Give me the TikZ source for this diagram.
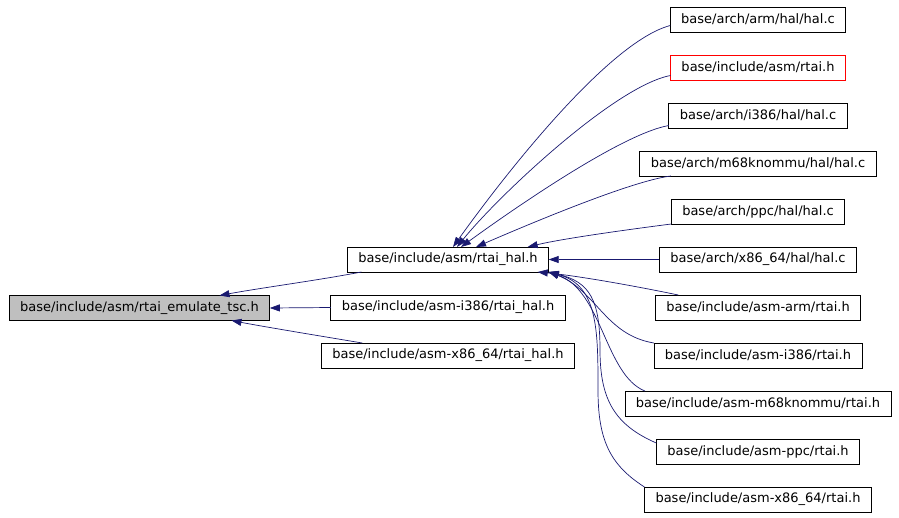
\documentclass[tikz,border=0pt]{standalone}
\usepackage{fontspec}
\setmainfont{DejaVu Sans}
\usepackage{xcolor}
\usetikzlibrary{positioning,arrows.meta}
\definecolor{InclNavy}{HTML}{191970}
\definecolor{RootGray}{HTML}{BFBFBF}
\definecolor{HeadRed}{HTML}{FF0000}
\tikzset{
  filebox/.style={draw=black,line width=0.8pt,minimum height=25pt,inner xsep=11pt,inner ysep=0pt,outer sep=0pt,font=\fontsize{13}{15}\selectfont},
  incl/.style={-{Triangle[length=10pt,width=7pt]},InclNavy,line width=0.7pt}
}

\begin{document}
\begin{tikzpicture}[x=1pt,y=-1pt,node distance=23pt]
        \useasboundingbox (0,0) rectangle (899,517);
        \node[filebox,fill=RootGray] (emu) at (139.5,308) {base/include/asm/rtai\_emulate\_tsc.h};
        \node[filebox] (hal) at (448,259.5) {base/include/asm/rtai\_hal.h};
        \node[filebox] (halx) at (448,307.5) {base/include/asm-i386/rtai\_hal.h};
        \node[filebox] (haly) at (448,355.5) {base/include/asm-x86\_64/rtai\_hal.h};
        \node[filebox] (arm) at (758,19.5) {base/arch/arm/hal/hal.c};
        \node[filebox,draw=HeadRed,below=of arm] (rtai) {base/include/asm/rtai.h};
        \node[filebox,below=of rtai] (i386) {base/arch/i386/hal/hal.c};
        \node[filebox,below=of i386] (m68k) {base/arch/m68knommu/hal/hal.c};
        \node[filebox,below=of m68k] (ppc) {base/arch/ppc/hal/hal.c};
        \node[filebox,below=of ppc] (x86) {base/arch/x86\_64/hal/hal.c};
        \node[filebox,below=of x86] (rarm) {base/include/asm-arm/rtai.h};
        \node[filebox,below=of rarm] (ri386) {base/include/asm-i386/rtai.h};
        \node[filebox,below=of ri386] (rm68k) {base/include/asm-m68knommu/rtai.h};
        \node[filebox,below=of rm68k] (rppc) {base/include/asm-ppc/rtai.h};
        \node[filebox,below=of rppc] (rx86) {base/include/asm-x86\_64/rtai.h};
        \draw[incl] ([xshift=14pt]hal.south west) .. controls (320,280) and (260,288) .. ([xshift=80pt]emu.north);
        \draw[incl] (halx.west) -- (emu.east);
        \draw[incl] ([xshift=41pt]haly.north west) .. controls (320,336) and (260,326) .. ([xshift=92pt]emu.south);
        \draw[incl] ([yshift=-6pt]arm.west) .. controls (608,42) and (503,177) .. ([xshift=5pt]hal.north);
        \draw[incl] ([yshift=-8pt]rtai.west) .. controls (615,86) and (498,196) .. ([xshift=9pt]hal.north);
        \draw[incl] ([yshift=-10pt]i386.west) .. controls (620,134) and (505,215) .. ([xshift=13pt]hal.north);
        \draw[incl] ([xshift=31pt]m68k.south west) .. controls (630,181) and (520,228) .. ([xshift=28pt]hal.north);
        \draw[incl] (ppc.south west) .. controls (640,228) and (565,238) .. ([xshift=-21pt]hal.north east);
        \draw[incl] (x86.west) -- (hal.east);
        \draw[incl] ([xshift=23pt]rarm.north west) .. controls (640,287) and (580,276) .. ([xshift=-11pt]hal.south east);
        \draw[incl] (ri386.north west) .. controls (605,335) and (596,290) .. (hal.south east);
        \draw[incl] ([xshift=20pt]rm68k.north west) .. controls (605,375) and (602,290) .. (hal.south east);
        \draw[incl] ([yshift=-4pt]rppc.north west) .. controls (615,425) and (600,400) .. (600,350) .. controls (600,300) and (590,282) .. (hal.south east);
        \draw[incl] (rx86.north west) .. controls (610,465) and (598,440) .. (598,390) .. controls (598,330) and (598,285) .. (hal.south east);
      \end{tikzpicture}
\end{document}
